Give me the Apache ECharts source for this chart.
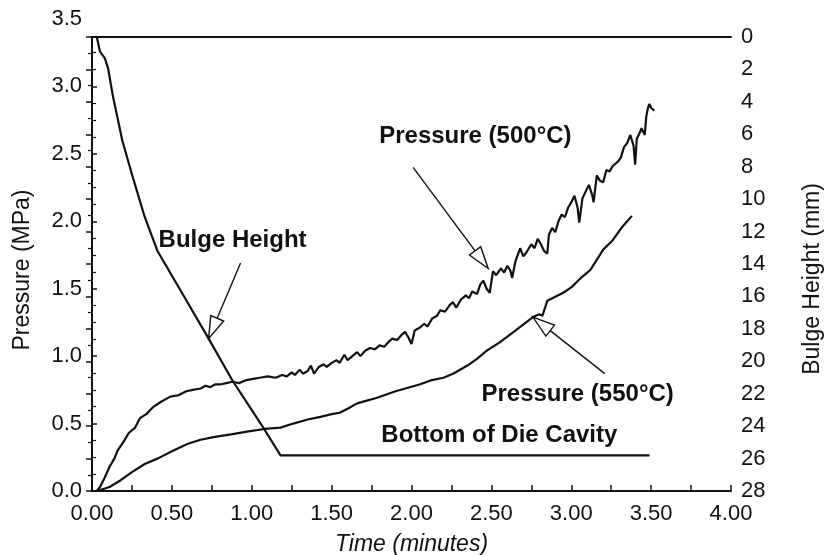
<!DOCTYPE html>
<html>
<head>
<meta charset="utf-8">
<script src="https://cdn.jsdelivr.net/npm/echarts@6/dist/echarts.min.js"></script>
<style>
  html, body { margin: 0; padding: 0; background: #fff; }
  #chart { width: 827px; height: 555px; }
</style>
</head>
<body>
<div id="chart"></div>
<script>
// Time (minutes) / pressure (MPa) samples of the 500 °C forming run
const p500Time = [0.03,0.05,0.08,0.11,0.14,0.16,0.20,0.23,0.27,0.30,0.34,0.38,0.43,0.49,0.54,0.59,0.63,0.68,0.71,0.74,0.77,0.80,0.84,0.88,0.92,0.96,1.00,1.05,1.10,1.15,1.19,1.22,1.25,1.27,1.30,1.32,1.35,1.37,1.39,1.42,1.45,1.47,1.50,1.53,1.55,1.58,1.60,1.63,1.66,1.68,1.71,1.74,1.77,1.80,1.83,1.86,1.88,1.91,1.94,1.96,1.98,2.00,2.02,2.05,2.08,2.10,2.13,2.16,2.18,2.21,2.24,2.26,2.28,2.31,2.34,2.36,2.38,2.41,2.43,2.45,2.47,2.49,2.51,2.53,2.56,2.58,2.60,2.62,2.63,2.65,2.68,2.70,2.72,2.75,2.77,2.79,2.81,2.83,2.85,2.86,2.88,2.90,2.92,2.94,2.96,2.98,3.00,3.02,3.04,3.05,3.07,3.09,3.11,3.13,3.14,3.16,3.18,3.20,3.22,3.24,3.26,3.29,3.31,3.33,3.35,3.37,3.39,3.40,3.41,3.43,3.44,3.46,3.47,3.48,3.49,3.50,3.52];
const p500Value = [0.00,0.03,0.10,0.18,0.24,0.30,0.37,0.43,0.47,0.54,0.57,0.62,0.66,0.70,0.71,0.74,0.75,0.76,0.78,0.77,0.79,0.79,0.80,0.81,0.80,0.82,0.83,0.84,0.85,0.84,0.86,0.85,0.88,0.86,0.90,0.87,0.89,0.93,0.87,0.92,0.94,0.92,0.95,0.97,0.95,1.01,0.97,1.00,1.03,1.00,1.04,1.06,1.05,1.08,1.07,1.11,1.13,1.12,1.16,1.18,1.14,1.09,1.19,1.21,1.24,1.22,1.28,1.30,1.34,1.33,1.38,1.40,1.36,1.42,1.45,1.43,1.48,1.46,1.53,1.56,1.50,1.47,1.63,1.60,1.65,1.62,1.67,1.63,1.58,1.70,1.80,1.74,1.77,1.83,1.80,1.87,1.83,1.78,1.76,1.90,1.95,1.92,2.00,2.05,2.03,2.10,2.14,2.19,2.10,1.99,2.17,2.22,2.27,2.20,2.14,2.34,2.30,2.29,2.38,2.37,2.41,2.44,2.47,2.55,2.58,2.64,2.56,2.42,2.61,2.66,2.69,2.64,2.78,2.84,2.87,2.84,2.82];

// Time (minutes) / pressure (MPa) samples of the 550 °C forming run
const p550Time = [0.03,0.11,0.18,0.25,0.33,0.41,0.51,0.60,0.68,0.76,0.87,0.97,1.08,1.18,1.26,1.35,1.43,1.50,1.55,1.60,1.66,1.72,1.78,1.90,2.05,2.12,2.20,2.26,2.35,2.41,2.47,2.55,2.65,2.76,2.80,2.82,2.85,2.90,2.95,3.00,3.07,3.12,3.20,3.26,3.32,3.38];
const p550Value = [0.00,0.03,0.08,0.14,0.20,0.24,0.30,0.35,0.38,0.40,0.42,0.44,0.46,0.47,0.50,0.53,0.55,0.57,0.58,0.61,0.65,0.67,0.69,0.74,0.79,0.82,0.84,0.87,0.93,0.98,1.04,1.10,1.19,1.29,1.31,1.30,1.41,1.44,1.47,1.51,1.59,1.64,1.79,1.86,1.96,2.04];

// Bulge height (mm) against time (minutes)
const bulgeTime = [0.03,0.05,0.08,0.10,0.13,0.19,0.26,0.33,0.41,0.57,0.73,0.88,1.06,1.18,3.49];
const bulgeValue = [0.0,0.9,1.3,1.9,3.6,6.4,8.8,11.1,13.2,15.9,18.6,21.2,23.9,25.8,25.8];

// Axis ticks
const timeTicks = { min: 0, max: 4, step: 0.5 };
const pressureTicks = { min: 0, max: 3.5, step: 0.5 };
const bulgeTicks = { min: 0, max: 28, step: 2 };

// Annotations: [text, time, pressure] and arrows [tailTime, tailP, tipTime, tipP]
const noteTexts = ['Bulge Height', 'Pressure (500°C)', 'Pressure (550°C)', 'Bottom of Die Cavity'];
const noteAt = [[0.88, 1.86], [2.40, 2.63], [3.04, 0.72], [2.55, 0.41]];
const arrows = [[0.93, 1.69, 0.73, 1.13], [2.01, 2.40, 2.48, 1.65], [3.21, 0.87, 2.76, 1.29]];

const zip = (xs, ys) => xs.map((x, i) => [x, ys[i]]);

const W = 827, H = 555;
const LEFT = 92, RIGHT = 96, BOTTOM = 64;
const TOP_LABELS = 19, TOP_FRAME = 37;
// pressure value at the top frame edge (label column extends above it)
const pressureAtFrame = pressureTicks.max * (H - TOP_FRAME - BOTTOM) / (H - TOP_LABELS - BOTTOM);

const FONT = '"Liberation Sans", Arial, Helvetica, sans-serif';
const INK = '#111';
const labelStyle = { color: INK, fontSize: 22, fontFamily: FONT };
const nameStyle = { color: INK, fontSize: 23, fontFamily: FONT };

const chart = echarts.init(document.getElementById('chart'), null, { renderer: 'canvas' });

const option = {
  animation: false,
  backgroundColor: '#fff',
  grid: [
    { left: LEFT, right: RIGHT, top: TOP_LABELS, bottom: BOTTOM, containLabel: false, outerBoundsMode: 'none' },
    { left: LEFT, right: RIGHT, top: TOP_FRAME, bottom: BOTTOM, containLabel: false, outerBoundsMode: 'none' }
  ],
  xAxis: [
    { gridIndex: 0, type: 'value', min: timeTicks.min, max: timeTicks.max, show: false },
    {
      gridIndex: 1, type: 'value', position: 'bottom',
      min: timeTicks.min, max: timeTicks.max, interval: timeTicks.step,
      name: 'Time (minutes)', nameLocation: 'middle', nameGap: 42,
      nameTextStyle: Object.assign({ fontStyle: 'italic' }, nameStyle),
      axisLine: { lineStyle: { color: INK, width: 2 } },
      axisTick: { inside: true, length: 6, lineStyle: { color: INK, width: 1.5 } },
      minorTick: { show: true, splitNumber: 2, length: 6, lineStyle: { color: INK, width: 1.5 } },
      axisLabel: Object.assign({ margin: 12, formatter: v => v.toFixed(2) }, labelStyle),
      splitLine: { show: false }
    },
    {
      gridIndex: 1, type: 'value', position: 'top',
      min: timeTicks.min, max: timeTicks.max,
      axisLine: { lineStyle: { color: INK, width: 2 } },
      axisTick: { show: false }, axisLabel: { show: false }, splitLine: { show: false }
    }
  ],
  yAxis: [
    {
      gridIndex: 0, type: 'value', position: 'left',
      min: pressureTicks.min, max: pressureTicks.max, interval: pressureTicks.step,
      axisLine: { show: false }, axisTick: { show: false }, splitLine: { show: false },
      axisLabel: Object.assign({ margin: 10, formatter: v => v.toFixed(1) }, labelStyle)
    },
    {
      gridIndex: 1, type: 'value', position: 'left',
      min: pressureTicks.min, max: pressureAtFrame, interval: pressureTicks.step,
      name: 'Pressure (MPa)', nameLocation: 'middle', nameGap: 58, nameRotate: 90,
      nameTextStyle: Object.assign({ padding: [0, 12, 0, 0] }, nameStyle),
      axisLine: { lineStyle: { color: INK, width: 2 } },
      axisTick: { inside: true, length: 5, lineStyle: { color: INK, width: 1.5 } },
      minorTick: { show: true, splitNumber: 4, length: 4, lineStyle: { color: INK, width: 1.2 } },
      axisLabel: { show: false }, splitLine: { show: false }
    },
    {
      gridIndex: 1, type: 'value', position: 'right', inverse: true,
      min: bulgeTicks.min, max: bulgeTicks.max, interval: bulgeTicks.step,
      name: 'Bulge Height (mm)', nameLocation: 'middle', nameGap: 70, nameRotate: 90,
      nameTextStyle: Object.assign({ padding: [0, 30, 0, 0] }, nameStyle),
      axisLine: { lineStyle: { color: INK, width: 2 } },
      axisTick: { inside: true, length: 6, lineStyle: { color: INK, width: 1.5 } },
      minorTick: { show: true, splitNumber: 2, length: 4, lineStyle: { color: INK, width: 1.2 } },
      axisLabel: Object.assign({ margin: 10 }, labelStyle),
      splitLine: { show: false }
    }
  ],
  series: [
    {
      name: 'Pressure (500°C)', type: 'line', xAxisIndex: 1, yAxisIndex: 1,
      data: zip(p500Time, p500Value), showSymbol: false, symbol: 'none',
      lineStyle: { color: INK, width: 2.2 }
    },
    {
      name: 'Pressure (550°C)', type: 'line', xAxisIndex: 1, yAxisIndex: 1,
      data: zip(p550Time, p550Value), showSymbol: false, symbol: 'none',
      lineStyle: { color: INK, width: 2.2 }
    },
    {
      name: 'Bulge Height', type: 'line', xAxisIndex: 1, yAxisIndex: 2,
      data: zip(bulgeTime, bulgeValue), showSymbol: false, symbol: 'none',
      lineStyle: { color: INK, width: 2.2 }
    }
  ]
};

chart.setOption(option);

// Annotation texts and open-headed arrows, placed in data coordinates
const toPx = (t, p) => chart.convertToPixel({ xAxisIndex: 1, yAxisIndex: 1 }, [t, p]);
const graphics = [];
noteTexts.forEach((txt, i) => {
  const [x, y] = toPx(noteAt[i][0], noteAt[i][1]);
  graphics.push({
    type: 'text', x: x, y: y, z: 10,
    style: {
      text: txt, fill: INK, font: 'bold 24px ' + FONT,
      align: 'center', verticalAlign: 'middle',
      textAlign: 'center', textVerticalAlign: 'middle'
    }
  });
});
const HEAD_LEN = 22, HEAD_W = 14;
arrows.forEach(a => {
  const tail = toPx(a[0], a[1]);
  const tip = toPx(a[2], a[3]);
  const dx = tip[0] - tail[0], dy = tip[1] - tail[1];
  const len = Math.hypot(dx, dy);
  const ux = dx / len, uy = dy / len;
  const bx = tip[0] - ux * HEAD_LEN, by = tip[1] - uy * HEAD_LEN;
  const nx = -uy * HEAD_W / 2, ny = ux * HEAD_W / 2;
  graphics.push({
    type: 'line', z: 10,
    shape: { x1: tail[0], y1: tail[1], x2: bx, y2: by },
    style: { stroke: INK, lineWidth: 1.4 }
  });
  graphics.push({
    type: 'polygon', z: 10,
    shape: { points: [[tip[0], tip[1]], [bx + nx, by + ny], [bx - nx, by - ny]] },
    style: { fill: '#fff', stroke: INK, lineWidth: 1.4 }
  });
});
chart.setOption({ graphic: graphics });
</script>
</body>
</html>
